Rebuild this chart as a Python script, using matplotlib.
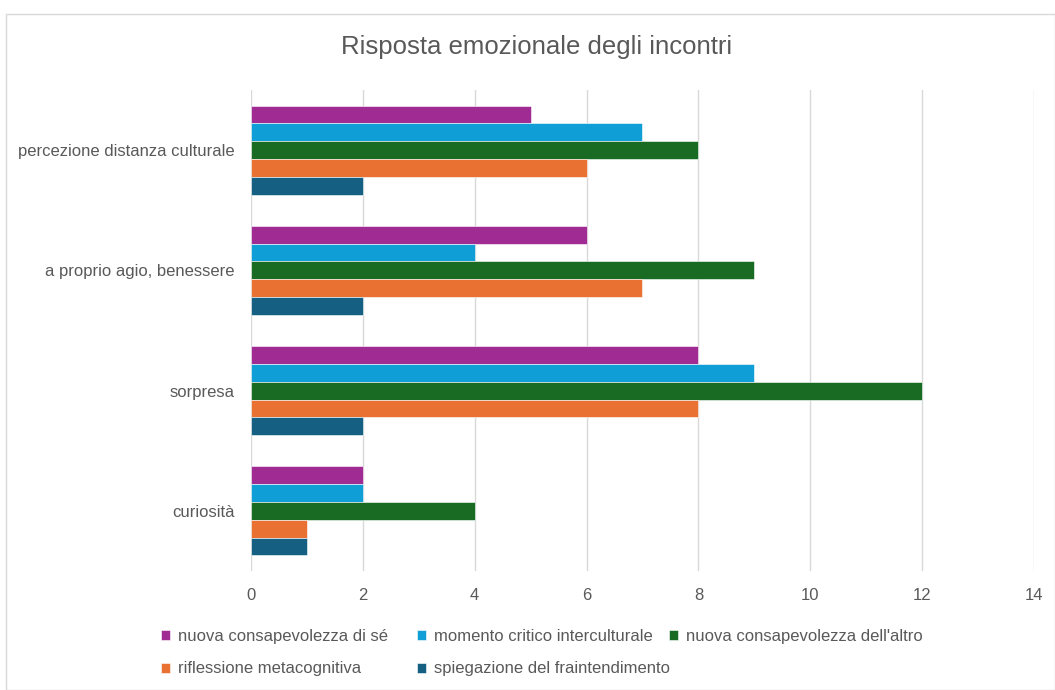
import matplotlib
matplotlib.use("Agg")
import matplotlib.pyplot as plt
from matplotlib.patches import Rectangle
import numpy as np

categories = ["percezione distanza culturale", "a proprio agio, benessere", "sorpresa", "curiosità"]
series_names = [
    "nuova consapevolezza di sé",
    "momento critico interculturale",
    "nuova consapevolezza dell'altro",
    "riflessione metacognitiva",
    "spiegazione del fraintendimento",
]
sé_vals = [5, 6, 8, 2]
critico_vals = [7, 4, 9, 2]
altro_vals = [8, 9, 12, 4]
metacog_vals = [6, 7, 8, 1]
fraint_vals = [2, 2, 2, 1]
series_values = [sé_vals, critico_vals, altro_vals, metacog_vals, fraint_vals]
colors = ["#A02B93", "#0F9ED5", "#196B24", "#E97132", "#156082"]
xticks = [0, 2, 4, 6, 8, 10, 12, 14]

plt.rcParams["font.family"] = ["Liberation Sans", "DejaVu Sans"]
text_color = "#595959"
W, H = 1055, 690

fig = plt.figure(figsize=(W / 100, H / 100), dpi=100)
fig.patches.append(Rectangle((6 / W, 0), 1 - 6 / W, 1 - 14 / H,
                             transform=fig.transFigure, fill=False,
                             edgecolor="#D9D9D9", linewidth=1.0))

ax = fig.add_axes([251 / W, 1 - 571 / H, (1034 - 251) / W, (571 - 90) / H])

n_series = len(series_values)
group_span = 0.74
bar_h = group_span / n_series
y_centers = np.arange(len(categories))
handles = []
for i, (vals, col, name) in enumerate(zip(series_values, colors, series_names)):
    offs = -group_span / 2 + bar_h * (i + 0.5)
    bc = ax.barh(y_centers + offs, vals, height=bar_h, color=col, label=name,
                 edgecolor="white", linewidth=0.4, zorder=3)
    handles.append(bc)

ax.set_ylim(len(categories) - 0.5, -0.5)
ax.set_xlim(0, 14)
ax.set_xticks(xticks)
ax.set_xticklabels([str(t) for t in xticks])
ax.set_yticks(y_centers)
ax.set_yticklabels(categories)
ax.grid(axis="x", color="#D9D9D9", linewidth=1.0, zorder=0)
for s in ax.spines.values():
    s.set_visible(False)
ax.tick_params(axis="both", length=0, colors=text_color, labelsize=12)
ax.tick_params(axis="x", pad=12)
ax.tick_params(axis="y", pad=12)

fig.text(537 / W, 1 - 47 / H, "Risposta emozionale degli incontri",
         ha="center", va="center", fontsize=18.5, color=text_color)

# Legend laid out as three fixed-width columns, filled row by row
columns = [[0, 3], [1, 4], [2]]
col_x = [161, 417, 669]
for idx, x0 in zip(columns, col_x):
    leg = fig.legend([handles[k] for k in idx], [series_names[k] for k in idx],
                     loc="upper left", bbox_to_anchor=(x0 / W, 1 - 629 / H),
                     frameon=False, fontsize=12, handlelength=0.55, handleheight=0.55,
                     handletextpad=0.45, labelspacing=1.05, borderpad=0, borderaxespad=0)
    for t in leg.get_texts():
        t.set_color(text_color)

fig.savefig("out.png", dpi=100)
